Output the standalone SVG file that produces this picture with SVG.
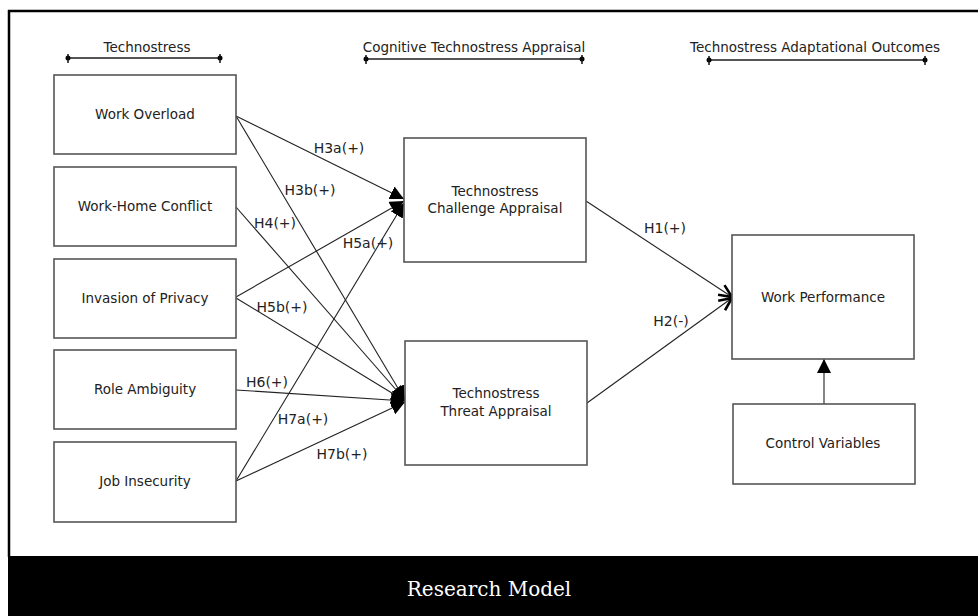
<svg xmlns="http://www.w3.org/2000/svg" width="978" height="616" viewBox="0 0 978 616">
<defs>
<style>
.bg{fill:#ffffff}
.node rect{fill:#ffffff;stroke:#555555;stroke-width:1.6}
.node text,.hdr text{font-family:"DejaVu Sans",sans-serif;font-size:13.5px;fill:#222222;text-anchor:middle}
.lbl{font-family:"DejaVu Sans",sans-serif;font-size:14px;fill:#222222;text-anchor:middle}
.edge{stroke:#222222;stroke-width:1.1;fill:none}
.brk{stroke:#555555;stroke-width:2}
.tick{stroke:#111111;stroke-width:1.5}
</style>
<marker id="tri" markerUnits="userSpaceOnUse" markerWidth="14" markerHeight="14" viewBox="0 0 12 12" refX="12" refY="6" orient="auto">
<path d="M0,0 L12,6 L0,12 Z" fill="#000000"/>
</marker>
<marker id="open" markerUnits="userSpaceOnUse" markerWidth="14" markerHeight="14" viewBox="0 0 12 12" refX="12" refY="6" orient="auto">
<path d="M1,1 L12,6 L1,11" fill="none" stroke="#000000" stroke-width="2.2"/>
</marker>
</defs>
<rect class="bg" x="0" y="0" width="978" height="616"/>
<g id="frame">
<line x1="8" y1="11" x2="978" y2="11" stroke="#000000" stroke-width="2.5"/>
<line x1="9" y1="10" x2="9" y2="557" stroke="#000000" stroke-width="2.5"/>
<rect x="8" y="556" width="970" height="60" fill="#000000"/>
<text x="489" y="596" font-family="DejaVu Serif, serif" font-size="20" fill="#ffffff" text-anchor="middle">Research Model</text>
</g>
<g id="headers" class="hdr">
<g id="hdr-technostress">
<text x="147" y="52">Technostress</text>
<line class="brk" x1="68" y1="58" x2="220" y2="58"/>
<circle cx="68" cy="58" r="2.5"/><line class="tick" x1="68" y1="54" x2="68" y2="63"/>
<circle cx="220" cy="58" r="2.5"/><line class="tick" x1="220" y1="54" x2="220" y2="63"/>
</g>
<g id="hdr-appraisal">
<text x="474" y="52">Cognitive Technostress Appraisal</text>
<line class="brk" x1="366" y1="59" x2="582" y2="59"/>
<circle cx="366" cy="59" r="2.5"/><line class="tick" x1="366" y1="55" x2="366" y2="64"/>
<circle cx="582" cy="59" r="2.5"/><line class="tick" x1="582" y1="55" x2="582" y2="64"/>
</g>
<g id="hdr-outcomes">
<text x="815" y="52">Technostress Adaptational Outcomes</text>
<line class="brk" x1="709" y1="60" x2="925" y2="60"/>
<circle cx="709" cy="60" r="2.5"/><line class="tick" x1="709" y1="56" x2="709" y2="65"/>
<circle cx="925" cy="60" r="2.5"/><line class="tick" x1="925" y1="56" x2="925" y2="65"/>
</g>
</g>
<g id="connectors">
<line class="edge" x1="236" y1="116" x2="404" y2="199" marker-end="url(#tri)"/>
<line class="edge" x1="236" y1="297" x2="404" y2="201" marker-end="url(#tri)"/>
<line class="edge" x1="236" y1="481" x2="404" y2="203" marker-end="url(#tri)"/>
<line class="edge" x1="236" y1="116" x2="405" y2="400" marker-end="url(#tri)"/>
<line class="edge" x1="236" y1="207" x2="405" y2="400" marker-end="url(#tri)"/>
<line class="edge" x1="236" y1="298" x2="405" y2="401" marker-end="url(#tri)"/>
<line class="edge" x1="236" y1="390" x2="405" y2="401" marker-end="url(#tri)"/>
<line class="edge" x1="236" y1="481" x2="405" y2="402" marker-end="url(#tri)"/>
<line class="edge" x1="586" y1="201" x2="732" y2="297" marker-end="url(#open)"/>
<line class="edge" x1="587" y1="403" x2="732" y2="298" marker-end="url(#open)"/>
<line class="edge" x1="824" y1="404" x2="824" y2="359" marker-end="url(#tri)"/>
<text class="lbl" x="339" y="153">H3a(+)</text>
<text class="lbl" x="310" y="195">H3b(+)</text>
<text class="lbl" x="275" y="228">H4(+)</text>
<text class="lbl" x="368" y="248">H5a(+)</text>
<text class="lbl" x="282" y="312">H5b(+)</text>
<text class="lbl" x="267" y="387">H6(+)</text>
<text class="lbl" x="303" y="424">H7a(+)</text>
<text class="lbl" x="342" y="459">H7b(+)</text>
<text class="lbl" x="665" y="233">H1(+)</text>
<text class="lbl" x="671" y="326">H2(-)</text>
</g>
<g id="work-overload" class="node"><rect x="54" y="75" width="182" height="79"/><text x="145" y="119">Work Overload</text></g>
<g id="work-home-conflict" class="node"><rect x="54" y="167" width="182" height="79"/><text x="145" y="211">Work-Home Conflict</text></g>
<g id="invasion-of-privacy" class="node"><rect x="54" y="259" width="182" height="79"/><text x="145" y="303">Invasion of Privacy</text></g>
<g id="role-ambiguity" class="node"><rect x="54" y="350" width="182" height="79"/><text x="145" y="394">Role Ambiguity</text></g>
<g id="job-insecurity" class="node"><rect x="54" y="442" width="182" height="80"/><text x="145" y="486">Job Insecurity</text></g>
<g id="challenge-appraisal" class="node"><rect x="404" y="138" width="182" height="124"/><text x="495" y="196">Technostress</text><text x="495" y="213">Challenge Appraisal</text></g>
<g id="threat-appraisal" class="node"><rect x="405" y="341" width="182" height="124"/><text x="496" y="398">Technostress</text><text x="496" y="416">Threat Appraisal</text></g>
<g id="work-performance" class="node"><rect x="732" y="235" width="182" height="124"/><text x="823" y="302">Work Performance</text></g>
<g id="control-variables" class="node"><rect x="733" y="404" width="182" height="80"/><text x="823" y="448">Control Variables</text></g>
</svg>
